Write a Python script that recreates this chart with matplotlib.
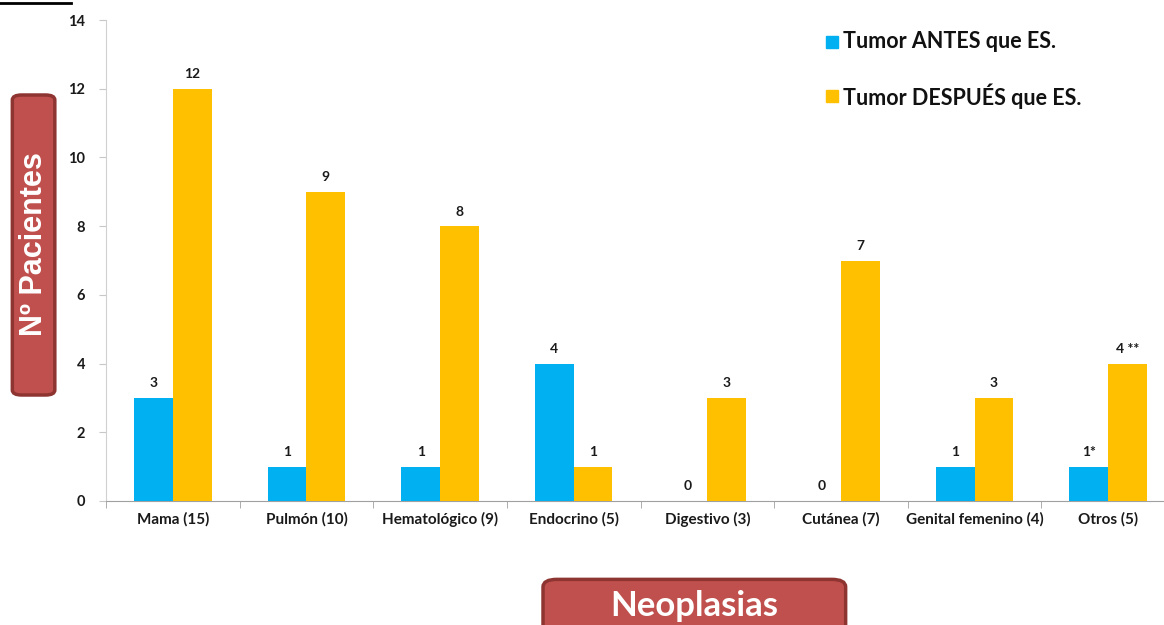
import matplotlib
matplotlib.use("Agg")
import matplotlib.pyplot as plt
import numpy as np
from matplotlib.patches import FancyBboxPatch, Rectangle
from matplotlib.lines import Line2D

categories = ["Mama (15)", "Pulmón (10)", "Hematológico (9)", "Endocrino (5)",
              "Digestivo (3)", "Cutánea (7)", "Genital femenino (4)", "Otros (5)"]
antes = [3, 1, 1, 4, 0, 0, 1, 1]
despues = [12, 9, 8, 1, 3, 7, 3, 4]
antes_labels = ["3", "1", "1", "4", "0", "0", "1", "1*"]
despues_labels = ["12", "9", "8", "1", "3", "7", "3", "4 **"]
series_names = ["Tumor ANTES que ES.", "Tumor DESPUÉS que ES."]
yticks = [0, 2, 4, 6, 8, 10, 12, 14]

BLUE = "#00B0F0"
ORANGE = "#FFC000"
BOX_FILL = "#C0504D"
BOX_EDGE = "#8E3532"
FONT = ["Lato", "DejaVu Sans"]

plt.rcParams["font.family"] = FONT

fig = plt.figure(figsize=(11.64, 6.25), dpi=100)
ax = fig.add_axes([0.0911, 0.1984, 0.9184, 0.7696])

x = np.arange(len(categories))
w = 0.29
ax.bar(x - w / 2, antes, w, color=BLUE, zorder=3)
ax.bar(x + w / 2, despues, w, color=ORANGE, zorder=3)

for xi, v, lab in zip(x - w / 2, antes, antes_labels):
    ax.text(xi, v + 0.25, lab, ha="center", va="bottom", fontsize=10,
            fontweight="bold", color="#1a1a1a")
for xi, v, lab in zip(x + w / 2, despues, despues_labels):
    ax.text(xi, v + 0.25, lab, ha="center", va="bottom", fontsize=10,
            fontweight="bold", color="#1a1a1a")

ax.set_xlim(-0.5, len(categories) - 0.5)
ax.set_ylim(0, 14)
ax.set_yticks(yticks)
ax.set_yticklabels([str(t) for t in yticks], fontsize=10.5, fontweight="bold",
                   color="#1a1a1a")
ax.set_xticks(x)
ax.set_xticklabels(categories, fontsize=11, fontweight="bold", color="#1a1a1a")
ax.tick_params(axis="x", length=0, pad=8)
ax.tick_params(axis="y", length=5, color="#c8c8c8", pad=10)
# category separators on the baseline
ax.set_xticks(np.arange(len(categories) + 1) - 0.5, minor=True)
ax.tick_params(axis="x", which="minor", length=5, color="#a0a0a0")

for s in ["top", "right"]:
    ax.spines[s].set_visible(False)
ax.spines["left"].set_color("#d0d0d0")
ax.spines["bottom"].set_color("#a0a0a0")

# legend
leg_rows = [(0.9328, BLUE), (0.8464, ORANGE)]
for (yy, col), name in zip(leg_rows, series_names):
    fig.patches.append(Rectangle((0.7096, yy - 0.009), 0.0103, 0.0192,
                                 transform=fig.transFigure, color=col))
    fig.text(0.7242, yy, name, fontsize=15.5, fontweight="bold",
             va="center", ha="left", color="#111111")

# y-axis title box
fig.patches.append(FancyBboxPatch((0.0106, 0.368), 0.0365, 0.480,
                                  boxstyle="round,pad=0,rounding_size=0.008",
                                  transform=fig.transFigure, facecolor=BOX_FILL,
                                  edgecolor=BOX_EDGE, linewidth=2.5))
fig.text(0.0295, 0.610, "Nº Pacientes", rotation=90, fontsize=22,
         fontweight="bold", color="white", ha="center", va="center",
         family=["Liberation Sans", "DejaVu Sans"])

# x-axis title box
fig.patches.append(FancyBboxPatch((0.4665, -0.02), 0.2600, 0.093,
                                  boxstyle="round,pad=0,rounding_size=0.012",
                                  transform=fig.transFigure, facecolor=BOX_FILL,
                                  edgecolor=BOX_EDGE, linewidth=2.5))
fig.text(0.5965, 0.030, "Neoplasias", fontsize=25, fontweight="bold",
         color="white", ha="center", va="center")

fig.add_artist(Line2D([0.0, 0.061], [0.9955, 0.9955], transform=fig.transFigure,
                      color="black", linewidth=2))

fig.savefig("out.png", dpi=100)
